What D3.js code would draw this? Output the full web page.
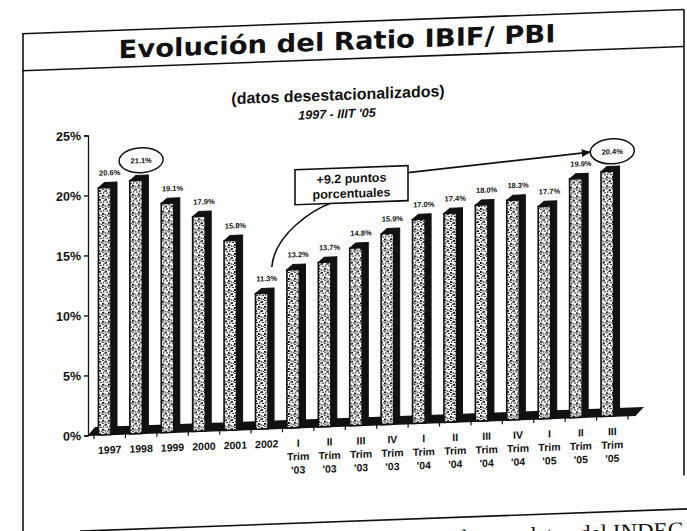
<!DOCTYPE html>
<html>
<head>
<meta charset="utf-8">
<script src="https://cdn.jsdelivr.net/npm/d3@7"></script>
<style>
  body { margin: 0; background: #fff; }
</style>
</head>
<body>
<div id="chart"></div>
<script>
const categories = ["1997", "1998", "1999", "2000", "2001", "2002",
  "I Trim '03", "II Trim '03", "III Trim '03", "IV Trim '03",
  "I Trim '04", "II Trim '04", "III Trim '04", "IV Trim '04",
  "I Trim '05", "II Trim '05", "III Trim '05"];
const ratios = [20.6, 21.1, 19.1, 17.9, 15.8, 11.3, 13.2, 13.7, 14.8, 15.9,
  17.0, 17.4, 18.0, 18.3, 17.7, 19.9, 20.4];
const highlighted = ["1998", "III Trim '05"];
const yTicks = [0, 5, 10, 15, 20, 25];
const noteLines = ["+9.2 puntos", "porcentuales"];

const width = 687;
const height = 531;
const ink = "#111";
const data = categories.map((c, i) => ({ cat: c, value: ratios[i] }));

const svg = d3.select("#chart").append("svg")
  .attr("width", width)
  .attr("height", height);

// the scan is tilted a little, so everything is drawn in a skewed group
const skew = -2.1;
const g = svg.append("g")
  .attr("transform", `translate(0, ${343 * Math.tan(-skew * Math.PI / 180)}) skewY(${skew})`);

// speckled fill of the bar faces
const pat = svg.append("defs").append("pattern")
  .attr("id", "speckle")
  .attr("patternUnits", "userSpaceOnUse")
  .attr("width", 6).attr("height", 9);
pat.append("rect").attr("width", 6).attr("height", 9).attr("fill", "#fff");
[[0,0,2,1],[3,1,2,2],[1,3,1,2],[4,4,2,1],[0,6,2,2],[3,7,1,2],[5,8,1,1],[2,2,1,1]]
  .forEach(r => pat.append("rect")
    .attr("x", r[0]).attr("y", r[1]).attr("width", r[2]).attr("height", r[3])
    .attr("fill", ink));

// frame
const frame = g.append("g").attr("stroke", ink).attr("stroke-width", 1.6).attr("fill", "none");
frame.append("line").attr("x1", 22).attr("x2", 684).attr("y1", 22).attr("y2", 22);
frame.append("line").attr("x1", 22).attr("x2", 684).attr("y1", 59).attr("y2", 59);
frame.append("line").attr("x1", 23).attr("x2", 23).attr("y1", 22).attr("y2", 560);
frame.append("line").attr("x1", 684).attr("x2", 684).attr("y1", 22).attr("y2", 488);
frame.append("line").attr("x1", 80).attr("x2", 710).attr("y1", 521.5).attr("y2", 521.5);

g.append("text")
  .attr("x", 337).attr("y", 50)
  .attr("text-anchor", "middle")
  .attr("textLength", 437).attr("lengthAdjust", "spacingAndGlyphs")
  .style("font-family", "DejaVu Sans, sans-serif")
  .style("font-weight", "bold")
  .style("font-size", "25px")
  .attr("fill", ink)
  .text("Evolución  del Ratio IBIF/ PBI");

g.append("text")
  .attr("x", 338).attr("y", 100)
  .attr("text-anchor", "middle")
  .style("font-family", "Liberation Sans, Arial, sans-serif")
  .style("font-weight", "bold")
  .style("font-size", "16px")
  .attr("fill", ink)
  .text("(datos desestacionalizados)");

g.append("text")
  .attr("x", 337).attr("y", 118)
  .attr("text-anchor", "middle")
  .style("font-family", "Liberation Sans, Arial, sans-serif")
  .style("font-weight", "bold")
  .style("font-style", "italic")
  .style("font-size", "12.5px")
  .attr("fill", ink)
  .text("1997 - IIIT '05");

// source line, cut at the bottom of the page as in the scan
g.append("text")
  .attr("x", 683).attr("y", 550)
  .attr("text-anchor", "end")
  .style("font-family", "Liberation Serif, Times New Roman, serif")
  .style("font-size", "23px")
  .attr("fill", ink)
  .text("Fuente: elaboración propia en base a datos del INDEC");

// scales
const x = d3.scaleBand()
  .domain(categories)
  .range([94, 628])
  .paddingInner(0.6)
  .paddingOuter(0.3);

const y = d3.scaleLinear()
  .domain([0, 25])
  .range([426, 126]);

const step = x.step();
const depthX = 6, depthY = -5;
const y0 = y(0);

// y axis
const yAxis = g.append("g")
  .attr("transform", "translate(88,0)")
  .call(d3.axisLeft(y).tickValues(yTicks).tickSize(4).tickPadding(3).tickFormat(d => d + "%"));
yAxis.select(".domain").attr("stroke", ink).attr("stroke-width", 1.3);
yAxis.selectAll(".tick line").attr("stroke", ink).attr("stroke-width", 1.3);
yAxis.selectAll("text")
  .style("font-family", "Liberation Sans, Arial, sans-serif")
  .style("font-weight", "bold")
  .style("font-size", "12.5px")
  .attr("fill", ink);

// dark floor
const fx0 = 88, fx1 = x.range()[1] + 8;
g.append("path")
  .attr("d", `M${fx0},${y0} L${fx1},${y0} L${fx1 + depthX + 2},${y0 + depthY - 3} L${fx0 + depthX + 1},${y0 + depthY - 3} Z`)
  .attr("fill", ink);
g.append("line")
  .attr("x1", fx0).attr("x2", fx1)
  .attr("y1", y0).attr("y2", y0)
  .attr("stroke", ink).attr("stroke-width", 1.5);

// ticks between the bars
const lastCat = categories[categories.length - 1];
const tickX = d => d === "end" ? x(lastCat) + x.bandwidth() + step * 0.3 : x(d) - step * 0.3;
g.append("g").selectAll("line")
  .data(categories.concat(["end"]))
  .join("line")
  .attr("x1", tickX)
  .attr("x2", tickX)
  .attr("y1", y0).attr("y2", y0 + 4)
  .attr("stroke", ink).attr("stroke-width", 1.2);

// bars: dark side + top, then speckled face
const bars = g.append("g").selectAll("g")
  .data(data)
  .join("g");

bars.append("path")
  .attr("d", d => {
    const l = x(d.cat) - 5, r = l + x.bandwidth(), t = y(d.value);
    return `M${l},${t} L${l + depthX},${t + depthY} L${r + depthX},${t + depthY} L${r + depthX},${y0 + depthY} L${r},${y0} L${r},${t} Z`;
  })
  .attr("fill", ink)
  .attr("stroke", ink)
  .attr("stroke-width", 1);

bars.append("rect")
  .attr("x", d => x(d.cat) - 5)
  .attr("y", d => y(d.value))
  .attr("width", x.bandwidth())
  .attr("height", d => y0 - y(d.value))
  .attr("fill", "url(#speckle)")
  .attr("stroke", ink)
  .attr("stroke-width", 1.6);

// value labels
const fmt = d => d3.format(".1f")(d) + "%";
const labelY = d => highlighted.includes(d.cat) ? y(d.value) - 17 : y(d.value) - 12;

g.append("g").selectAll("text")
  .data(data)
  .join("text")
  .attr("x", d => x(d.cat) + x.bandwidth() / 2)
  .attr("y", labelY)
  .attr("text-anchor", "middle")
  .style("font-family", "Liberation Sans Narrow, Liberation Sans, Arial, sans-serif")
  .style("font-weight", "bold")
  .style("font-size", "7.5px")
  .attr("fill", ink)
  .text(d => fmt(d.value));

g.append("g").selectAll("ellipse")
  .data(data.filter(d => highlighted.includes(d.cat)))
  .join("ellipse")
  .attr("cx", d => x(d.cat) + x.bandwidth() / 2)
  .attr("cy", d => labelY(d) - 3)
  .attr("rx", 22).attr("ry", 12.5)
  .attr("fill", "none")
  .attr("stroke", ink)
  .attr("stroke-width", 1.5);

// x labels, one word per line
const xl = g.append("g").selectAll("text")
  .data(categories)
  .join("text")
  .attr("text-anchor", "middle")
  .style("font-family", "Liberation Sans Narrow, Liberation Sans, Arial, sans-serif")
  .style("font-weight", "bold")
  .style("font-size", "10.5px")
  .attr("fill", ink);
xl.selectAll("tspan")
  .data(d => d.split(" ").map(w => ({ w, cx: x(d) + x.bandwidth() / 2 })))
  .join("tspan")
  .attr("x", d => d.cx)
  .attr("y", (d, i) => 445 + i * 13.5)
  .text(d => d.w);

// annotation
const noteX = 295, noteY = 168, noteW = 113, noteH = 35;
const from = x("2002") + x.bandwidth() / 2;

g.append("path")
  .attr("d", `M${from + 5},${y(ratios[5]) - 26} C${from + 8},${y(ratios[5]) - 60} ${noteX + 20},${noteY + noteH + 5} ${noteX + 35},${noteY + noteH}`)
  .attr("fill", "none").attr("stroke", ink).attr("stroke-width", 1.6);

svg.append("defs").append("marker")
  .attr("id", "arrow")
  .attr("viewBox", "0 0 10 10")
  .attr("refX", 9).attr("refY", 5)
  .attr("markerWidth", 6).attr("markerHeight", 6)
  .attr("orient", "auto")
  .append("path").attr("d", "M0,1 L10,5 L0,9 Z").attr("fill", ink);

g.append("line")
  .attr("x1", noteX + noteW).attr("y1", noteY + 7)
  .attr("x2", x(lastCat) + x.bandwidth() / 2 - 22).attr("y2", labelY(data[data.length - 1]) - 3)
  .attr("stroke", ink).attr("stroke-width", 1.6)
  .attr("marker-end", "url(#arrow)");

g.append("rect")
  .attr("x", noteX).attr("y", noteY)
  .attr("width", noteW).attr("height", noteH)
  .attr("fill", "#fff").attr("stroke", ink).attr("stroke-width", 1.6);

g.append("g").selectAll("text")
  .data(noteLines)
  .join("text")
  .attr("x", noteX + noteW / 2)
  .attr("y", (d, i) => noteY + 15 + i * 15)
  .attr("text-anchor", "middle")
  .style("font-family", "Liberation Sans, Arial, sans-serif")
  .style("font-weight", "bold")
  .style("font-size", "12.5px")
  .attr("fill", ink)
  .text(d => d);
</script>
</body>
</html>
